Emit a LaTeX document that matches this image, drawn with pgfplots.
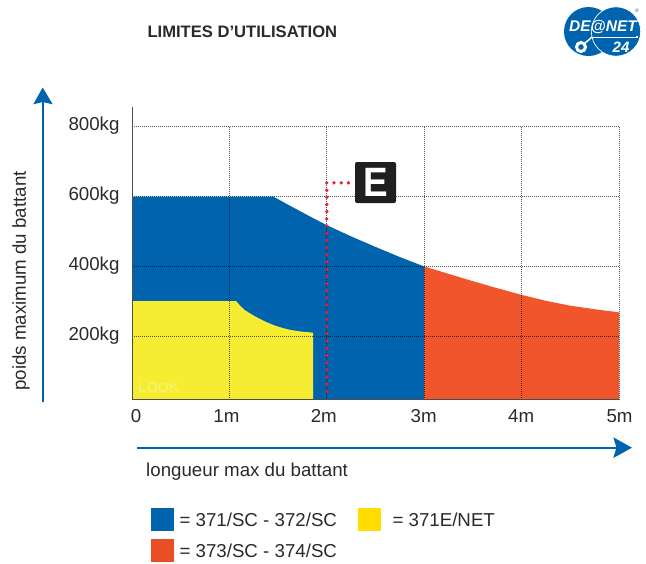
\documentclass[border=0pt]{standalone}
\usepackage{pgfplots}
\pgfplotsset{compat=1.18}
\usepackage{fontspec}
\setmainfont{Liberation Sans}
\definecolor{bl}{HTML}{0063AE}
\definecolor{ye}{HTML}{F6EC32}
\definecolor{orr}{HTML}{F1552C}
\definecolor{txt}{HTML}{2A2A2A}
\definecolor{dotred}{HTML}{EC1C2E}
\begin{document}
\begin{tikzpicture}[x=1pt,y=-1pt,font=\fontsize{18.7}{20}\selectfont,text=txt]
\path (0,0) rectangle (646,563);
\begin{axis}[at={(132pt,-399.5pt)},anchor=origin,
  x=97.4pt,y=0.35pt,xmin=0,xmax=5,ymin=20,ymax=800,clip=false,
  axis on top,axis x line=bottom,axis y line=left,
  axis line style={-,line width=1pt,color=black!70},
  xtick={0,1,2,3,4,5},ytick={200,400,600,800},
  xticklabels={\hspace{14pt}0,1m,2m,\hspace{5pt}3m,\hspace{5pt}4m,\hspace{7pt}5m},
  yticklabels={200kg,400kg,600kg,800kg},
  tick style={draw=none},major tick length=0pt,
  grid=major,
  major grid style={dash pattern=on 1pt off 1pt,line width=0.9pt,color=black,opacity=0.65},
  xticklabel style={yshift=-6pt,xshift=-3pt,text=txt,text height=13.5pt,text depth=0pt},
  yticklabel style={xshift=-9pt,yshift=1pt,text=txt},
  tick label style={font=\fontsize{18.7}{20}\selectfont}]
\addplot[fill=bl,draw=none] coordinates {(0,20)(0,600)(1.45,600)(1.6,577)(1.8,547)(2,518)(2.25,486)(2.5,456)(2.75,427)(3,400)(3,20)} \closedcycle;
\addplot[fill=orr,draw=none] coordinates {(3,20)(3,400)(3.25,379)(3.5,358)(3.75,338)(4,319)(4.25,302)(4.5,288)(4.75,278)(5,269)(5,20)} \closedcycle;
\addplot[fill=ye,draw=none] coordinates {(0,20)(0,301)(1.07,301)(1.11,288)(1.16,275)(1.23,263)(1.30,252)(1.38,241)(1.47,231)(1.55,224)(1.63,218.6)(1.74,214)(1.86,211)(1.86,20)} \closedcycle;
\addplot[black!70,line width=1pt] coordinates {(0,800)(0,855)};
\end{axis}
\begin{axis}[at={(132pt,-399.5pt)},anchor=origin,
  x=97.4pt,y=0.35pt,xmin=0,xmax=5,ymin=20,ymax=800,clip=false,hide axis]
\addplot[only marks,mark=*,mark size=1.5pt,color=dotred,mark options={draw=dotred,fill=dotred}] coordinates {
(2.222,639)(2.148,639)(2.074,639)(2,639)(2,618)(2,598)(2,577)(2,557)(2,536)(2,516)(2,495)(2,475)(2,454)(2,434)(2,413)(2,392)(2,372)(2,351)(2,331)(2,310)(2,290)(2,269)(2,249)(2,228)(2,208)(2,187)(2,166)(2,146)(2,125)(2,105)(2,84)(2,64)(2,43)};
\node[anchor=west,text=white,opacity=0.25,font=\fontsize{14}{14}\selectfont\bfseries] at (axis cs:0.03,55) {LOOK};
\end{axis}
% E box
\fill[black!88,rounded corners=2pt] (355,162) rectangle (396,203);
\node[text=white,xscale=0.9,font=\fontsize{41}{41}\selectfont\bfseries] at (375.5,182.5) {E};
% arrows
\draw[bl,line width=1.8pt] (43,402) -- (43,98);
\fill[bl] (42.7,87.5) -- (52.7,104.3) -- (42.7,102) -- (33.3,104.3) -- cycle;
\draw[bl,line width=1.8pt] (137,447.7) -- (622,447.7);
\fill[bl] (632,447.7) -- (613.3,437.3) -- (616.5,447.7) -- (613.3,458) -- cycle;
% labels
\node[font=\fontsize{16.6}{18}\selectfont\bfseries,anchor=west] at (144,32) {LIMITES D'UTILISATION};
\node[rotate=90,font=\fontsize{18.7}{20}\selectfont] at (21,281) {poids maximum du battant};
\node[anchor=west,font=\fontsize{18.7}{20}\selectfont] at (142.7,472) {longueur max du battant};
% legend
\fill[bl] (151,508) rectangle (174,531);
\fill[fill={rgb,255:red,233;green,78;blue,36}] (151,539) rectangle (174,562);
\fill[fill={rgb,255:red,255;green,221;blue,0}] (358,508) rectangle (381,531);
\node[anchor=west,font=\fontsize{18.7}{20}\selectfont] at (176,519.5) {= 371/SC - 372/SC};
\node[anchor=west,font=\fontsize{18.7}{20}\selectfont] at (176,550.5) {= 373/SC - 374/SC};
\node[anchor=west,font=\fontsize{18.7}{20}\selectfont] at (389,519.5) {= 371E/NET};
% logo
\fill[bl] (588.5,31.5) circle (24.5);
\fill[bl,draw=white,line width=0.7pt] (616,31.5) circle (24.7);
\draw[white,line width=1.5pt] (590,37.5) -- (636,37.5);
\fill[white] (636,36) rectangle (638,38);
\draw[white,line width=3pt] (581,47) circle (4.5);
\draw[white,line width=1.5pt] (585,43) -- (591,38);
\node[text=white,font=\fontsize{15.5}{15}\selectfont\bfseries\itshape] at (603,27) {DE@NET};
\node[text=white,font=\fontsize{15}{15}\selectfont\bfseries\itshape] at (621,47) {24};
\node[text=bl,font=\fontsize{5}{5}\selectfont] at (637,11) {®};
\end{tikzpicture}
\end{document}
